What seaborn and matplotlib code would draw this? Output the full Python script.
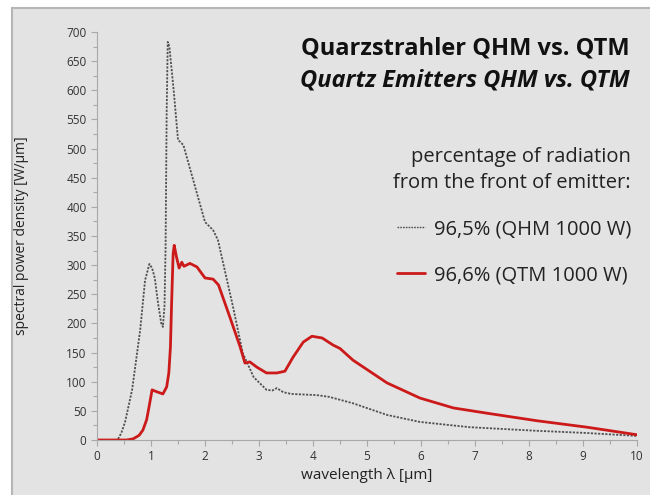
import matplotlib
matplotlib.use("Agg")
import matplotlib.pyplot as plt
import matplotlib.patches as mpatches
from matplotlib.lines import Line2D
from matplotlib.ticker import MultipleLocator
import seaborn as sns
import pandas as pd

# --- data ---
qhm_x = [0, 0.38, 0.45, 0.52, 0.65, 0.8, 0.89, 0.97, 1.02, 1.07, 1.13, 1.19, 1.22,
         1.25, 1.27, 1.29, 1.31, 1.34, 1.42, 1.5, 1.6, 1.8, 2.0, 2.15, 2.24, 2.52,
         2.7, 2.9, 3.14, 3.25, 3.33, 3.45, 3.6, 4.07, 4.3, 4.74, 5.37, 5.98, 6.9,
         8.1, 9.07, 10]
qhm_y = [0, 0, 12, 31, 86, 189, 274, 302, 295, 278, 235, 200, 194,
         230, 330, 560, 683, 675, 600, 515, 506, 440, 374, 360, 343, 228,
         149, 108, 86, 85, 89, 82, 79, 77, 74, 63, 43, 31, 22,
         16, 12, 7]

qtm_x = [0, 0.55, 0.67, 0.78, 0.85, 0.92, 0.97, 1.02, 1.1, 1.22, 1.29, 1.33, 1.36,
         1.38, 1.41, 1.43, 1.47, 1.52, 1.57, 1.61, 1.72, 1.85, 2.0, 2.15, 2.25,
         2.46, 2.65, 2.74, 2.83, 2.96, 3.14, 3.33, 3.48, 3.63, 3.82, 3.98, 4.17,
         4.37, 4.5, 4.74, 5.37, 5.98, 6.6, 7.22, 8.15, 9.07, 10]
qtm_y = [0, 0, 2, 8, 17, 35, 60, 86, 83, 79, 91, 115, 160,
         230, 320, 334, 315, 295, 305, 298, 303, 297, 278, 276, 266,
         211, 160, 132, 134, 125, 115, 115, 118, 142, 168, 178, 175,
         163, 157, 137, 98, 72, 55, 46, 33, 22, 9]

series_labels = ["96,5% (QHM 1000 W)", "96,6% (QTM 1000 W)"]
title_de = "Quarzstrahler QHM vs. QTM"
title_en = "Quartz Emitters QHM vs. QTM"
legend_title = "percentage of radiation\nfrom the front of emitter:"

qhm = pd.DataFrame({"wl": qhm_x, "p": qhm_y})
qtm = pd.DataFrame({"wl": qtm_x, "p": qtm_y})

sns.set_style("ticks")
plt.rcParams["font.family"] = ["Open Sans", "DejaVu Sans"]

BG = "#e3e3e3"
GRAY_AX = "#a8a8a8"
RED = "#cc1a1a"
DARK = "#505050"

fig = plt.figure(figsize=(6.5, 4.95), dpi=100, facecolor="white")
# grey panel behind the chart
fig.patches.append(mpatches.Rectangle((12 / 650, -0.01), 1.0, (495 - 8) / 495 + 0.01,
                                      transform=fig.transFigure, facecolor=BG,
                                      edgecolor="#b5b5b5", linewidth=1.5, zorder=-5))

ax = fig.add_axes([97 / 650, 55 / 495, 540 / 650, 408 / 495])
ax.set_facecolor("none")

sns.lineplot(data=qhm, x="wl", y="p", ax=ax, color=DARK, linewidth=1.3,
             linestyle=(0, (1.2, 0.8)), sort=False)
sns.lineplot(data=qtm, x="wl", y="p", ax=ax, color=RED, linewidth=2.0, sort=False)

ax.set_xlim(0, 10)
ax.set_ylim(0, 700)
ax.xaxis.set_major_locator(MultipleLocator(1))
ax.xaxis.set_minor_locator(MultipleLocator(0.5))
ax.yaxis.set_major_locator(MultipleLocator(50))
ax.yaxis.set_minor_locator(MultipleLocator(25))
ax.tick_params(which="both", direction="out", color=GRAY_AX, labelsize=8.5,
               labelcolor="#333333", width=0.8)
ax.tick_params(which="major", length=4)
ax.tick_params(which="minor", length=3)
sns.despine(ax=ax)
for s in ("left", "bottom"):
    ax.spines[s].set_color(GRAY_AX)
    ax.spines[s].set_linewidth(0.8)

ax.set_xlabel("wavelength λ [µm]", fontsize=11, color="#222222", labelpad=3)
ax.set_ylabel("spectral power density [W/µm]", fontsize=10, color="#222222")
ax.yaxis.set_label_coords(-0.125, 0.5)

fig.text(630 / 650, 1 - 48 / 495, title_de, ha="right", va="center",
         fontsize=17, fontweight="bold", color="#111111")
fig.text(630 / 650, 1 - 80 / 495, title_en, ha="right", va="center",
         fontsize=17, fontweight="bold", fontstyle="italic", color="#111111")

handles = [Line2D([], [], color=DARK, linewidth=1.0, linestyle=(0, (1.2, 0.8))),
           Line2D([], [], color=RED, linewidth=2.0)]
leg = ax.legend(handles, series_labels, title=legend_title, loc="upper right",
                bbox_to_anchor=(649 / 650, 1 - 129 / 495), bbox_transform=fig.transFigure,
                frameon=False, fontsize=14.5, title_fontsize=14.5, alignment="right",
                handlelength=1.4, handletextpad=0.4, labelspacing=1.3)
leg.get_title().set_multialignment("right")
leg.get_title().set_color("#222222")
leg.get_title().set_linespacing(1.4)
for t in leg.get_texts():
    t.set_color("#222222")

fig.savefig("out.png", dpi=100, facecolor="white")
